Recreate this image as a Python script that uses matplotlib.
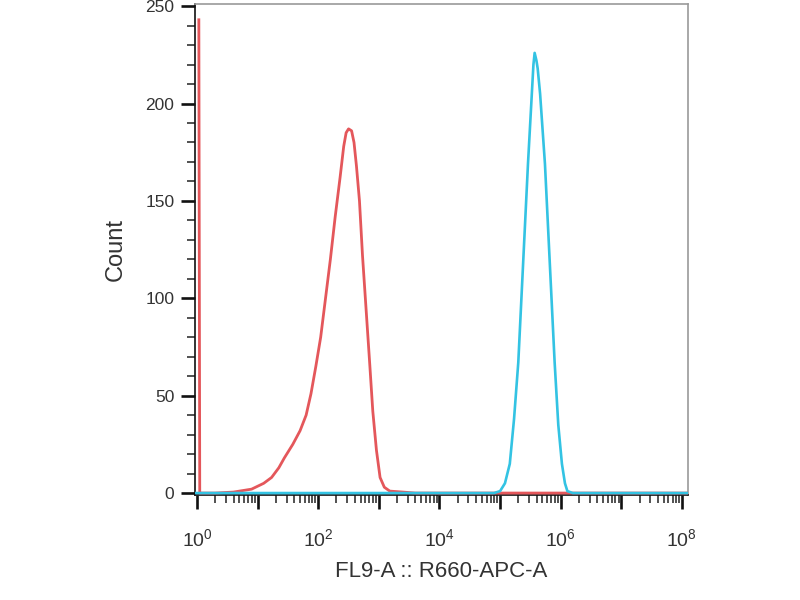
"""
Flow cytometry histogram: FL9-A :: R660-APC-A, two overlaid populations.
Output: out.png (800x600)
"""
import numpy as np
import matplotlib
matplotlib.use("Agg")
import matplotlib.pyplot as plt
from matplotlib.ticker import LogLocator, MultipleLocator, NullFormatter, FixedLocator

plt.rcParams["font.family"] = ["Liberation Sans", "DejaVu Sans"]
plt.rcParams["mathtext.fontset"] = "custom"
plt.rcParams["mathtext.rm"] = "Liberation Sans"

# --- data (x as log10 decades, y as counts) ---
red_log = [0.030, 0.045, 0.3, 0.6, 0.9, 1.1, 1.23, 1.35, 1.44, 1.58, 1.70,
           1.80, 1.88, 1.96, 2.04, 2.12, 2.20, 2.28, 2.36, 2.42, 2.46, 2.50,
           2.55, 2.59, 2.63, 2.68, 2.73, 2.79, 2.85, 2.90, 2.96, 3.02, 3.09,
           3.18, 3.40, 3.60, 8.10]
red_count = [243, 0, 0, 0.5, 2, 5, 8, 13, 18, 25, 32,
             40, 51, 65, 80, 100, 120, 142, 162, 178, 185, 187,
             186, 180, 168, 150, 122, 94, 66, 42, 22, 8, 3,
             1, 0.5, 0, 0]

blue_log = [-0.05, 4.90, 5.00, 5.08, 5.16, 5.23, 5.30, 5.38, 5.46, 5.52, 5.55,
            5.57, 5.60, 5.62, 5.66, 5.74, 5.82, 5.90, 5.96, 6.02, 6.07, 6.11,
            6.20, 8.15]
blue_count = [0, 0, 1, 5, 15, 38, 67, 118, 169, 203, 220,
              226, 222, 218, 205, 169, 118, 67, 35, 15, 5, 1,
              0, 0]

x_tick_exp = [0, 2, 4, 6, 8]
y_ticks = [0, 50, 100, 150, 200, 250]

RED = "#e4575b"
BLUE = "#33c3e3"
TEXT = "#333333"

fig = plt.figure(figsize=(8, 6), dpi=100)
ax = fig.add_axes([0.244, 0.175, 0.616, 0.818])

ax.plot(10 ** np.array(red_log), red_count, color=RED, lw=2.0, zorder=3)
ax.plot(10 ** np.array(blue_log), blue_count, color=BLUE, lw=1.9, zorder=4)

ax.set_xscale("log")
ax.set_xlim(10 ** -0.03, 10 ** 8.1)
ax.set_ylim(-1, 251)

# x ticks: every decade major, labels every second decade
ax.xaxis.set_major_locator(FixedLocator([10.0 ** e for e in range(0, 9)]))
ax.xaxis.set_minor_locator(LogLocator(base=10, subs=range(2, 10), numticks=20))
ax.xaxis.set_minor_formatter(NullFormatter())
ax.set_xticklabels([r"$\mathregular{10^{%d}}$" % e if e in x_tick_exp else ""
                    for e in range(0, 9)])

ax.set_yticks(y_ticks)
ax.yaxis.set_minor_locator(MultipleLocator(10))

ax.tick_params(axis="both", which="major", length=10, width=1.9, color="#111111",
               labelcolor=TEXT)
ax.tick_params(axis="both", which="minor", length=6, width=1.1, color="#222222")
ax.tick_params(axis="x", which="major", pad=14, labelsize=14)
ax.tick_params(axis="y", which="major", pad=5, labelsize=12.5)

for side in ["top", "right"]:
    ax.spines[side].set_color("#9a9a9a")
    ax.spines[side].set_linewidth(1.2)
for side in ["left", "bottom"]:
    ax.spines[side].set_color("#111111")
    ax.spines[side].set_linewidth(1.2)

ax.set_ylabel("Count", fontsize=17, color=TEXT, labelpad=13)
ax.set_xlabel("FL9-A :: R660-APC-A", fontsize=16, color=TEXT, labelpad=8)

fig.savefig("out.png", dpi=100, facecolor="white")
plt.close(fig)
